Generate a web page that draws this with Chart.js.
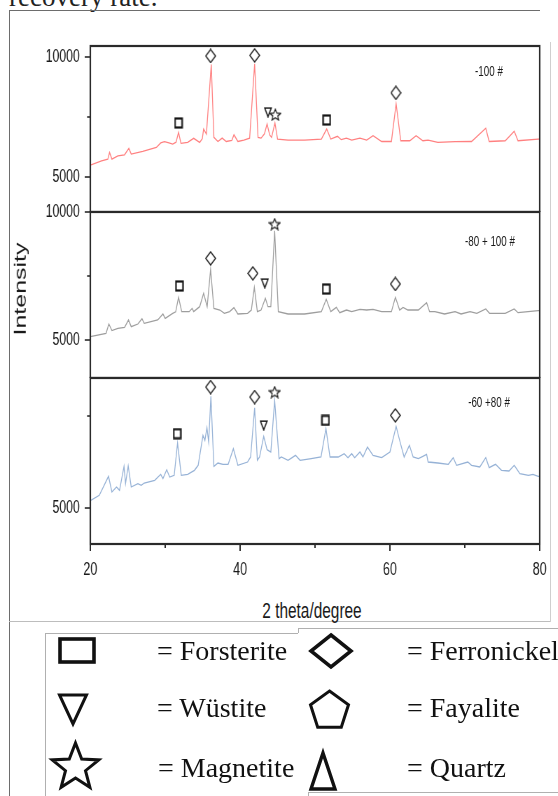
<!DOCTYPE html>
<html><head><meta charset="utf-8">
<script src="https://cdn.jsdelivr.net/npm/chart.js@4.4.1/dist/chart.umd.min.js"></script>
<style>
html,body{margin:0;padding:0;background:#fff;}
body{width:558px;height:796px;position:relative;overflow:hidden;font-family:'Liberation Sans',Arial,sans-serif;}
canvas.panel{position:absolute;left:0;transform-origin:0 0;transform:scaleX(0.7);}
.ln{position:absolute;}
.txt{position:absolute;white-space:nowrap;color:#1a1a1a;}
.leg{position:absolute;font-family:'Liberation Serif','Times New Roman',serif;font-size:28px;line-height:28px;color:#111;white-space:nowrap;}
</style></head><body>
<div class="txt" style="left:9px;top:-16px;font:27px/27px 'Liberation Serif',serif;color:#222">recovery rate.</div>
<div class="ln" style="left:9px;top:10px;width:531px;height:1px;background:#6d6d6d"></div>
<div class="ln" style="left:9px;top:10px;width:1px;height:786px;background:#6d6d6d"></div>
<div class="ln" style="left:550px;top:42px;width:1px;height:580px;background:#cfcfcf"></div>
<div class="ln" style="left:9px;top:621px;width:541px;height:1px;background:#bdbdbd"></div>
<div class="ln" style="left:45px;top:633px;width:253px;height:1px;background:#b0b0b0"></div>
<div class="ln" style="left:45px;top:633px;width:1px;height:163px;background:#b0b0b0"></div>
<div class="ln" style="left:298px;top:628px;width:260px;height:1px;background:#b0b0b0"></div>
<div class="ln" style="left:298px;top:628px;width:1px;height:5px;background:#b0b0b0"></div>
<div class="ln" style="left:308px;top:792px;width:250px;height:1px;background:#b0b0b0"></div>
<div class="ln" style="left:308px;top:792px;width:1px;height:4px;background:#b0b0b0"></div>

<canvas id="c1" class="panel" width="797" height="178" style="top:34px"></canvas>
<canvas id="c2" class="panel" width="797" height="178" style="top:200px"></canvas>
<canvas id="c3" class="panel" width="797" height="214" style="top:366px"></canvas>

<div class="txt" style="left:-80.5px;top:274px;width:200px;height:30px;font:25px/30px 'Liberation Sans',Arial,sans-serif;text-align:center;transform:rotate(-90deg) scaleY(0.68);">Intensity</div>
<div class="txt" style="left:212px;top:600px;width:200px;font:22px/22px 'Liberation Sans',Arial,sans-serif;text-align:center;transform:scaleX(0.7);">2 theta/degree</div>
<div class="txt" id="s1" style="left:388.5px;top:64px;width:200px;font:14px/14px 'Liberation Sans',Arial,sans-serif;text-align:center;transform:scaleX(0.7);"></div>
<div class="txt" id="s2" style="left:389.5px;top:234px;width:200px;font:14px/14px 'Liberation Sans',Arial,sans-serif;text-align:center;transform:scaleX(0.7);"></div>
<div class="txt" id="s3" style="left:388.5px;top:395px;width:200px;font:14px/14px 'Liberation Sans',Arial,sans-serif;text-align:center;transform:scaleX(0.7);"></div>

<svg id="legsvg" width="558" height="796" style="position:absolute;left:0;top:0;pointer-events:none"></svg>
<div class="leg" style="left:157px;top:636.5px">= Forsterite</div>
<div class="leg" style="left:157px;top:693.5px">= Wüstite</div>
<div class="leg" style="left:158px;top:753.5px">= Magnetite</div>
<div class="leg" style="left:407px;top:636.5px">= Ferronickel</div>
<div class="leg" style="left:407px;top:693.5px">= Fayalite</div>
<div class="leg" style="left:407px;top:753.5px">= Quartz</div>

<script>
// ---------- data ----------
const seriesNames = ['-100 #', '-80 + 100 #', '-60 +80 #'];

const topX = [20.0,21.5,22.34,22.57,22.88,23.68,24.57,25.15,25.46,27.0,28.82,29.4,29.9,30.5,31.0,31.45,31.78,32.1,33.0,33.8,34.6,34.95,35.13,35.5,36.15,36.5,37.04,37.6,38.15,38.9,39.18,39.7,40.5,41.27,41.94,42.39,42.8,43.25,43.6,43.95,44.2,44.65,45.0,46.4,48.6,50.85,51.56,52.1,53.0,53.5,54.2,54.9,56.0,56.9,57.75,58.9,60.2,60.83,61.45,62.65,63.5,64.4,65.1,66.4,68.7,70.9,72.8,73.25,75.4,76.6,77.1,79.8,80.0];
const topY = [5490,5674,5745,6025,5745,5883,5925,6193,5954,6067,6230,6420,6470,6420,6372,6450,6862,6400,6440,6611,6440,6600,7000,6790,9690,6650,6480,6620,6480,6530,6760,6480,6540,6620,9720,6650,6620,6800,7209,6750,6650,7251,6582,6540,6540,6582,7000,6582,6695,6555,6620,6540,6620,6540,6720,6480,6480,8046,6510,6510,6720,6510,6540,6440,6470,6480,7029,6480,6510,6904,6510,6582,6580];

const midX = [20.0,22.1,22.48,22.88,23.68,24.57,25.1,25.46,26.35,26.9,27.2,29.0,29.7,30.0,31.0,31.4,31.78,32.2,33.2,33.6,33.8,34.6,35.13,35.6,36.06,36.5,37.3,37.9,38.6,39.18,39.7,41.0,41.5,41.9,42.3,42.8,43.37,43.72,44.1,44.61,45.1,46.4,48.6,50.85,51.5,52.1,52.85,53.3,54.2,54.9,56.0,56.9,57.75,58.9,60.2,60.73,61.3,61.76,62.4,63.8,64.9,65.3,66.0,67.3,68.7,69.5,70.7,71.6,72.8,73.3,75.4,76.6,77.1,79.8,80.0];
const midY = [5130,5262,5625,5367,5457,5497,5781,5523,5625,5833,5650,5781,6016,5846,6042,6100,6668,6107,6107,6237,6107,6302,6823,6302,7760,6237,6172,6042,6107,6263,6016,6042,6172,7059,6107,6172,6629,6302,6302,9270,6107,6016,6016,6107,6590,6107,6276,6068,6172,6107,6198,6172,6198,6107,6107,6668,6172,6276,6172,6172,6458,6107,6107,6016,6107,6016,6107,6042,6211,6042,6042,6211,6068,6146,6146];

const botX = [20.0,21.2,22.43,22.88,23.5,23.9,24.5,24.7,25.06,25.46,26.35,26.8,27.2,28.6,29.4,29.7,30.2,30.6,31.2,31.65,32.14,33.0,33.9,34.4,35.04,35.3,35.57,35.8,36.1,36.5,37.04,37.7,38.4,39.1,39.7,41.0,41.4,41.94,42.3,42.6,43.15,43.6,44.1,44.61,45.2,45.5,46.4,47.4,48.0,49.5,50.8,51.46,52.0,53.1,53.9,54.4,54.9,55.3,56.0,56.4,57.0,57.75,58.9,60.0,60.83,61.3,61.9,62.6,63.1,63.8,64.4,64.9,65.1,66.4,67.8,68.45,68.9,70.4,70.9,72.0,72.8,73.25,74.1,74.9,75.9,76.6,77.35,78.5,79.1,79.8,80.0];
const botY = [5200,5345,5861,5435,5571,5480,6133,5661,6142,5571,5661,5616,5679,5752,5915,5797,6042,5842,5888,6766,5888,5915,6024,6160,6975,6838,7182,6793,8035,6133,6223,6187,6187,6612,6160,6250,6386,7725,6296,6386,6948,6585,6522,7926,6341,6386,6296,6431,6296,6341,6386,7155,6386,6386,6477,6368,6477,6368,6522,6386,6657,6431,6368,6522,7219,6838,6386,6703,6386,6341,6404,6458,6250,6223,6187,6368,6160,6250,6160,6115,6368,6097,6187,6024,6006,6160,5933,5888,5915,5860,5860];

// phase markers: sq = Forsterite, di = Ferronickel, tri = Wüstite, star = Magnetite
const topMarkX = [31.78,36.06,41.94,43.72,44.7,51.56,60.8];
const topMarkY = [7251,10042,10070,7699,7598,7377,8506];
const topMarkT = ['sq','di','di','tri','star','sq','di'];
const midMarkX = [31.9,36.06,41.7,43.3,44.61,51.5,60.73];
const midMarkY = [7110,8191,7605,7215,9531,6992,7188];
const midMarkT = ['sq','di','di','tri','star','sq','di'];
const botMarkX = [31.6,36.06,41.94,43.15,44.61,51.4,60.73];
const botMarkY = [7019,8288,8016,7247,8152,7383,7519];
const botMarkT = ['sq','di','di','tri','star','sq','di'];

const xTicks = [20,30,40,50,60,70,80];
const xLabeled = [20,40,60,80];
const topYTicks = [5000,7500,10000];
const topYLabeled = [5000,10000];
const midYTicks = [5000,7500,10000];
const midYLabeled = [5000,10000];
const botYTicks = [5000,7500];
const botYLabeled = [5000];

// ---------- rendering ----------
const FONT = "'Liberation Sans', Arial, sans-serif";
document.getElementById('s1').textContent = seriesNames[0];
document.getElementById('s2').textContent = seriesNames[1];
document.getElementById('s3').textContent = seriesNames[2];

function mk(w,h,draw){const c=document.createElement('canvas');c.width=w;c.height=h;const g=c.getContext('2d');g.strokeStyle='#151515';g.fillStyle='#fff';g.lineJoin='miter';draw(g,w,h);return c;}
const markImg = {
  sq: mk(13,12,(g,w,h)=>{g.lineWidth=2.2;g.fillRect(1.5,1.5,w-3,h-3);g.strokeRect(1.5,1.5,w-3,h-3);}),
  di: mk(16,15,(g,w,h)=>{g.lineWidth=1.4;g.beginPath();g.moveTo(w/2,1);g.lineTo(w-1,h/2);g.lineTo(w/2,h-1);g.lineTo(1,h/2);g.closePath();g.fill();g.stroke();}),
  tri: mk(12,11,(g,w,h)=>{g.lineWidth=1.6;g.beginPath();g.moveTo(1.3,1.3);g.lineTo(w-1.3,1.3);g.lineTo(w/2,h-1);g.closePath();g.fill();g.stroke();}),
  star: mk(18,13,(g,w,h)=>{g.lineWidth=1.3;const rx=(w/2-1.2)/0.951, ry=(h-2.4)/1.809, cy=1.2+ry;g.beginPath();for(let k=0;k<10;k++){const a=-Math.PI/2+k*Math.PI/5;const r=k%2?0.45:1;const px=w/2+Math.cos(a)*r*rx, py=cy+Math.sin(a)*r*ry;k?g.lineTo(px,py):g.moveTo(px,py);}g.closePath();g.fill();g.stroke();})
};

const framePlugin = {
  id:'frame',
  afterDraw(chart, args, opts){
    const {ctx, chartArea:a, scales} = chart;
    ctx.save();
    ctx.strokeStyle = '#2a2a2a';
    const y = scales.y;
    ctx.lineWidth = 1.6;
    y.ticks.forEach(t=>{const py=y.getPixelForValue(t.value);const len=t.label?8:4.6;ctx.beginPath();ctx.moveTo(a.left-len,py);ctx.lineTo(a.left,py);ctx.stroke();});
    if (opts.xticks){
      const x = scales.x; ctx.lineWidth = 2;
      x.ticks.forEach(t=>{const px=x.getPixelForValue(t.value);const len=t.label?7:4;ctx.beginPath();ctx.moveTo(px,a.bottom);ctx.lineTo(px,a.bottom+len);ctx.stroke();});
    }
    ctx.lineWidth = 2.2;
    ctx.strokeRect(a.left, a.top, a.right-a.left, a.bottom-a.top);
    ctx.restore();
  }
};

function pts(xs, ys){ return xs.map((x,i)=>({x:x, y:ys[i]})); }

function makePanel(id, cfg){
  const showX = !!cfg.showX;
  return new Chart(document.getElementById(id), {
    type:'line',
    data:{datasets:[
      {label:cfg.name+' phases', data:pts(cfg.mx,cfg.my), showLine:false,
       pointStyle:(c)=> markImg[cfg.mt[c.dataIndex]] || 'circle',
       pointRadius:6, pointHoverRadius:6, pointBorderWidth:0, borderWidth:0},
      {label:cfg.name, data:pts(cfg.xs,cfg.ys), borderColor:cfg.color, borderWidth:1.3,
       pointRadius:0, pointHoverRadius:0, tension:0, fill:false}
    ]},
    options:{
      responsive:false, animation:false, devicePixelRatio:1, events:[],
      layout:{autoPadding:false, padding:{top:12,left:0,right:26,bottom:0}},
      plugins:{legend:{display:false}, tooltip:{enabled:false}, frame:{xticks:showX}},
      scales:{
        x:{type:'linear', min:20, max:80, display:showX,
           afterBuildTicks:(s)=>{s.ticks = xTicks.map(v=>({value:v}));},
           afterFit:(s)=>{s.height = showX ? 36 : 0; s.paddingLeft=0; s.paddingRight=0;},
           grid:{display:false, drawTicks:false}, border:{display:false},
           ticks:{autoSkip:false, maxRotation:0, minRotation:0, padding:15, color:'#1a1a1a',
                  font:{family:FONT, size:18}, callback:(v)=> xLabeled.includes(v) ? String(v) : ''}},
        y:{type:'linear', min:cfg.yMin, max:cfg.yMax,
           afterBuildTicks:(s)=>{s.ticks = cfg.yTicks.map(v=>({value:v}));},
           afterFit:(s)=>{s.width=129; s.paddingTop=0; s.paddingBottom=0;},
           grid:{display:false, drawTicks:false}, border:{display:false},
           ticks:{autoSkip:false, padding:15, color:'#1a1a1a',
                  font:{family:FONT, size:17.5}, callback:(v)=> cfg.yLabels.includes(v) ? String(v) : ''}}
      }
    },
    plugins:[framePlugin]
  });
}

makePanel('c1', {name:seriesNames[0], xs:topX, ys:topY, color:'rgb(255,128,128)', mx:topMarkX, my:topMarkY, mt:topMarkT,
  yMin:3542, yMax:10458, yTicks:topYTicks, yLabels:topYLabeled});
makePanel('c2', {name:seriesNames[1], xs:midX, ys:midY, color:'rgb(158,158,158)', mx:midMarkX, my:midMarkY, mt:midMarkT,
  yMin:3516, yMax:10000, yTicks:midYTicks, yLabels:midYLabeled});
makePanel('c3', {name:seriesNames[2], xs:botX, ys:botY, color:'rgb(150,178,214)', mx:botMarkX, my:botMarkY, mt:botMarkT,
  yMin:4022, yMax:8533, yTicks:botYTicks, yLabels:botYLabeled, showX:true});

// ---------- legend symbols ----------
(function(){
  function starPts(cx,cy,R,r){const p=[];for(let k=0;k<10;k++){const a=-Math.PI/2+k*Math.PI/5;const rr=k%2?r:R;p.push((cx+Math.cos(a)*rr).toFixed(1)+','+(cy+Math.sin(a)*rr).toFixed(1));}return p.join(' ');}
  function polyPts(cx,cy,R,n,rot){const p=[];for(let k=0;k<n;k++){const a=rot+k*2*Math.PI/n;p.push((cx+Math.cos(a)*R).toFixed(1)+','+(cy+Math.sin(a)*R).toFixed(1));}return p.join(' ');}
  const st = 'fill="none" stroke="#111" stroke-linejoin="miter"';
  document.getElementById('legsvg').innerHTML =
    '<rect x="60" y="639" width="34" height="23" '+st+' stroke-width="3.6"/>'+
    '<polygon points="59.5,695 86.5,695 73,724" '+st+' stroke-width="3"/>'+
    '<polygon points="'+starPts(75.5,767.5,24.5,10.5)+'" '+st+' stroke-width="3"/>'+
    '<polygon points="331,635 351,651 331,667 311,651" '+st+' stroke-width="3.6"/>'+
    '<polygon points="'+polyPts(329.5,711,20,5,-Math.PI/2)+'" '+st+' stroke-width="3"/>'+
    '<polygon points="323,753 335,789 311,789" '+st+' stroke-width="3.4"/>';
})();
</script>
</body></html>
